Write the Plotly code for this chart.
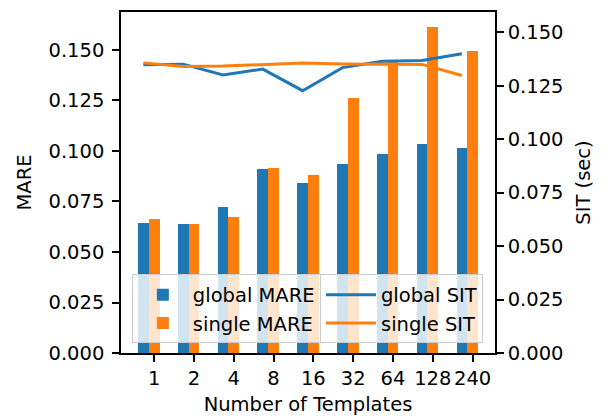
import plotly.graph_objects as go

categories = ["1", "2", "4", "8", "16", "32", "64", "128", "240"]
global_mare = [0.0642, 0.0637, 0.0721, 0.0909, 0.0840, 0.0934, 0.0984, 0.1033, 0.1013]
single_mare = [0.0662, 0.0637, 0.0672, 0.0914, 0.0879, 0.1261, 0.1441, 0.1613, 0.1494]
global_sit = [0.1348, 0.1351, 0.1300, 0.1328, 0.1227, 0.1335, 0.1365, 0.1368, 0.1400]
single_sit = [0.1357, 0.1340, 0.1342, 0.1348, 0.1356, 0.1352, 0.1351, 0.1350, 0.1298]

BLUE = "#1f77b4"
ORANGE = "#ff7f0e"
W = 0.27
FS = 19.5
FONT = "DejaVu Sans"

idx = list(range(len(categories)))
x_blue = [i - W for i in idx]

fig = go.Figure()
fig.add_trace(go.Bar(x=x_blue, y=global_mare, width=W, name="global MARE",
                     marker=dict(color=BLUE, line=dict(width=0)), legend="legend"))
fig.add_trace(go.Bar(x=idx, y=single_mare, width=W, name="single MARE",
                     marker=dict(color=ORANGE, line=dict(width=0)), legend="legend"))
fig.add_trace(go.Scatter(x=x_blue, y=global_sit, mode="lines", name="global SIT",
                         line=dict(color=BLUE, width=3), yaxis="y2", legend="legend2"))
fig.add_trace(go.Scatter(x=x_blue, y=single_sit, mode="lines", name="single SIT",
                         line=dict(color=ORANGE, width=3), yaxis="y2", legend="legend2"))

lo = -W - W / 2
hi = (len(categories) - 1) + W / 2
pad = 0.05 * (hi - lo)

axis_common = dict(showline=True, linecolor="black", linewidth=1.5, ticks="outside",
                   ticklen=7, tickwidth=1.5, tickcolor="black", showgrid=False,
                   zeroline=False, automargin=False,
                   tickfont=dict(family=FONT, size=FS, color="black"))

fig.update_layout(
    width=611, height=420,
    margin=dict(l=121, r=116, t=12, b=67),
    paper_bgcolor="white", plot_bgcolor="white",
    font=dict(family=FONT, size=FS, color="black"),
    barmode="overlay", bargap=0,
    xaxis=dict(range=[lo - pad, hi + pad], tickmode="array", tickvals=idx,
               ticktext=categories, mirror=True,
               title=dict(text="Number of Templates", font=dict(family=FONT, size=FS), standoff=8),
               **axis_common),
    yaxis=dict(range=[0, 0.1688], tickmode="linear", tick0=0, dtick=0.025, tickformat=".3f",
               ticklabelstandoff=4,
               title=dict(text="MARE", font=dict(family=FONT, size=FS), standoff=12),
               **axis_common),
    yaxis2=dict(range=[0, 0.1595], tickmode="linear", tick0=0, dtick=0.025, tickformat=".3f",
                overlaying="y", side="right",
                title=dict(text="SIT (sec)", font=dict(family=FONT, size=FS), standoff=14),
                **axis_common),
    legend=dict(x=0.029, y=0.028, xanchor="left", yanchor="bottom",
                bgcolor="rgba(255,255,255,0.8)", bordercolor="#cccccc", borderwidth=1,
                font=dict(family=FONT, size=FS), traceorder="normal", itemwidth=50,
                tracegroupgap=0),
    legend2=dict(x=0.532, y=0.028, xanchor="left", yanchor="bottom",
                 bgcolor="rgba(255,255,255,0.8)", bordercolor="#cccccc", borderwidth=1,
                 font=dict(family=FONT, size=FS), traceorder="normal", itemwidth=50,
                 tracegroupgap=0),
    showlegend=True,
)

fig.write_html("out.html")
